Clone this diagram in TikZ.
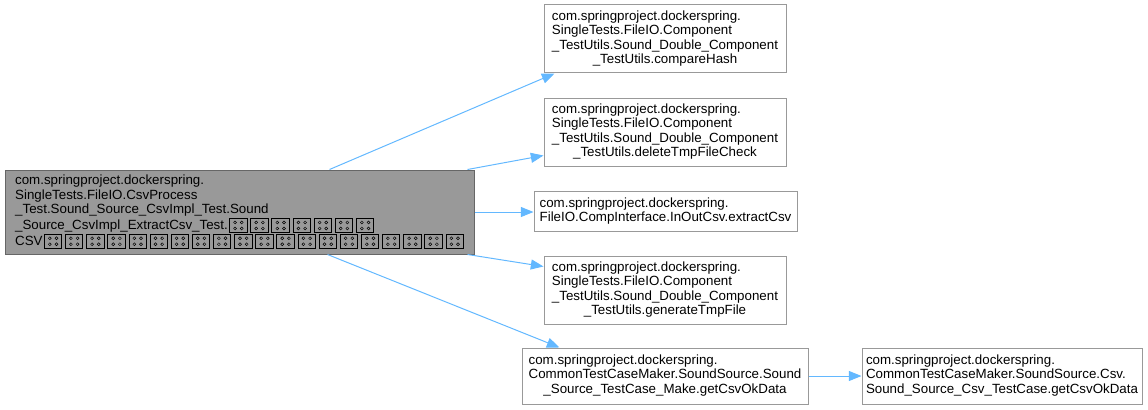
\documentclass[tikz,border=0pt]{standalone}
\usepackage{fontspec}
\setmainfont{Liberation Sans}
\usetikzlibrary{arrows.meta,calc}
\definecolor{edgeblue}{HTML}{63B8FF}
\definecolor{mainfill}{HTML}{999999}
\definecolor{mainborder}{HTML}{666666}
\definecolor{boxborder}{HTML}{999999}
\newcommand\tofu{\hspace{1.05pt}\tikz[baseline=2.3pt]{\draw[line width=0.75pt,black] (0pt,0pt) rectangle (13pt,10.5pt); \foreach \a in {4pt,9pt}{\foreach \b in {3pt,7.5pt}{\draw[line width=0.35pt] (\a,\b) circle (1.1pt);}}}\hspace{1.05pt}}
\newcommand\ntext[2]{\begin{tabular}{@{}l@{}}#1\\\multicolumn{1}{@{}c@{}}{#2}\end{tabular}}
\begin{document}
\begin{tikzpicture}[x=0.75pt,y=-0.75pt,
  font=\fontsize{10}{10.875}\selectfont,
  nbox/.style={draw=boxborder, fill=white, line width=0.75pt, inner sep=0pt},
  mainbox/.style={draw=mainborder, fill=mainfill, line width=0.75pt, inner sep=0pt},
  link/.style={draw=edgeblue, line width=0.75pt, -{Triangle[length=9.5pt,width=7.5pt]}}]
\useasboundingbox (0,0) rectangle (1148,410);

\node[mainbox, minimum width=351.75pt, minimum height=63pt] (main) at (239.5,212)
  {\ntext{com.springproject.dockerspring.\\SingleTests.FileIO.CsvProcess\\\_Test.Sound\_Source\_CsvImpl\_Test.Sound\\\_Source\_CsvImpl\_ExtractCsv\_Test.\tofu\tofu\tofu\tofu\tofu\tofu\tofu}{CSV\tofu\tofu\tofu\tofu\tofu\tofu\tofu\tofu\tofu\tofu\tofu\tofu\tofu\tofu\tofu\tofu\tofu\tofu\tofu\tofu}};

\node[nbox, minimum width=181.5pt, minimum height=51pt] (A) at (665,39)
  {\ntext{com.springproject.dockerspring.\\SingleTests.FileIO.Component\\\_TestUtils.Sound\_Double\_Component}{\_TestUtils.compareHash}};
\node[nbox, minimum width=181.5pt, minimum height=51pt] (B) at (665,132)
  {\ntext{com.springproject.dockerspring.\\SingleTests.FileIO.Component\\\_TestUtils.Sound\_Double\_Component}{\_TestUtils.deleteTmpFileCheck}};
\node[nbox, minimum width=197.25pt, minimum height=30pt] (C) at (665.5,211.5)
  {\ntext{com.springproject.dockerspring.}{FileIO.CompInterface.InOutCsv.extractCsv}};
\node[nbox, minimum width=181.5pt, minimum height=51pt] (D) at (665,290)
  {\ntext{com.springproject.dockerspring.\\SingleTests.FileIO.Component\\\_TestUtils.Sound\_Double\_Component}{\_TestUtils.generateTmpFile}};
\node[nbox, minimum width=214.5pt, minimum height=42pt] (E) at (665,376)
  {\ntext{com.springproject.dockerspring.\\CommonTestCaseMaker.SoundSource.Sound}{\_Source\_TestCase\_Make.getCsvOkData}};
\node[nbox, minimum width=210pt, minimum height=42pt] (F) at (1002,376)
  {\ntext{com.springproject.dockerspring.\\CommonTestCaseMaker.SoundSource.Csv.}{Sound\_Source\_Csv\_TestCase.getCsvOkData}};

\draw[link] ($(main.north west)+(325,0)$) -- ($(A.south west)+(11,0)$);
\draw[link] ($(main.north west)+(463,0)$) -- ($(B.south west)+(0,-11)$);
\draw[link] (main.east) -- (main.east -| C.west);
\draw[link] ($(main.south west)+(463,0)$) -- ($(D.north west)+(0,11)$);
\draw[link] ($(main.south west)+(323,0)$) -- ($(E.north west)+(38,0)$);
\draw[link] (E.east) -- (F.west);
\end{tikzpicture}
\end{document}
